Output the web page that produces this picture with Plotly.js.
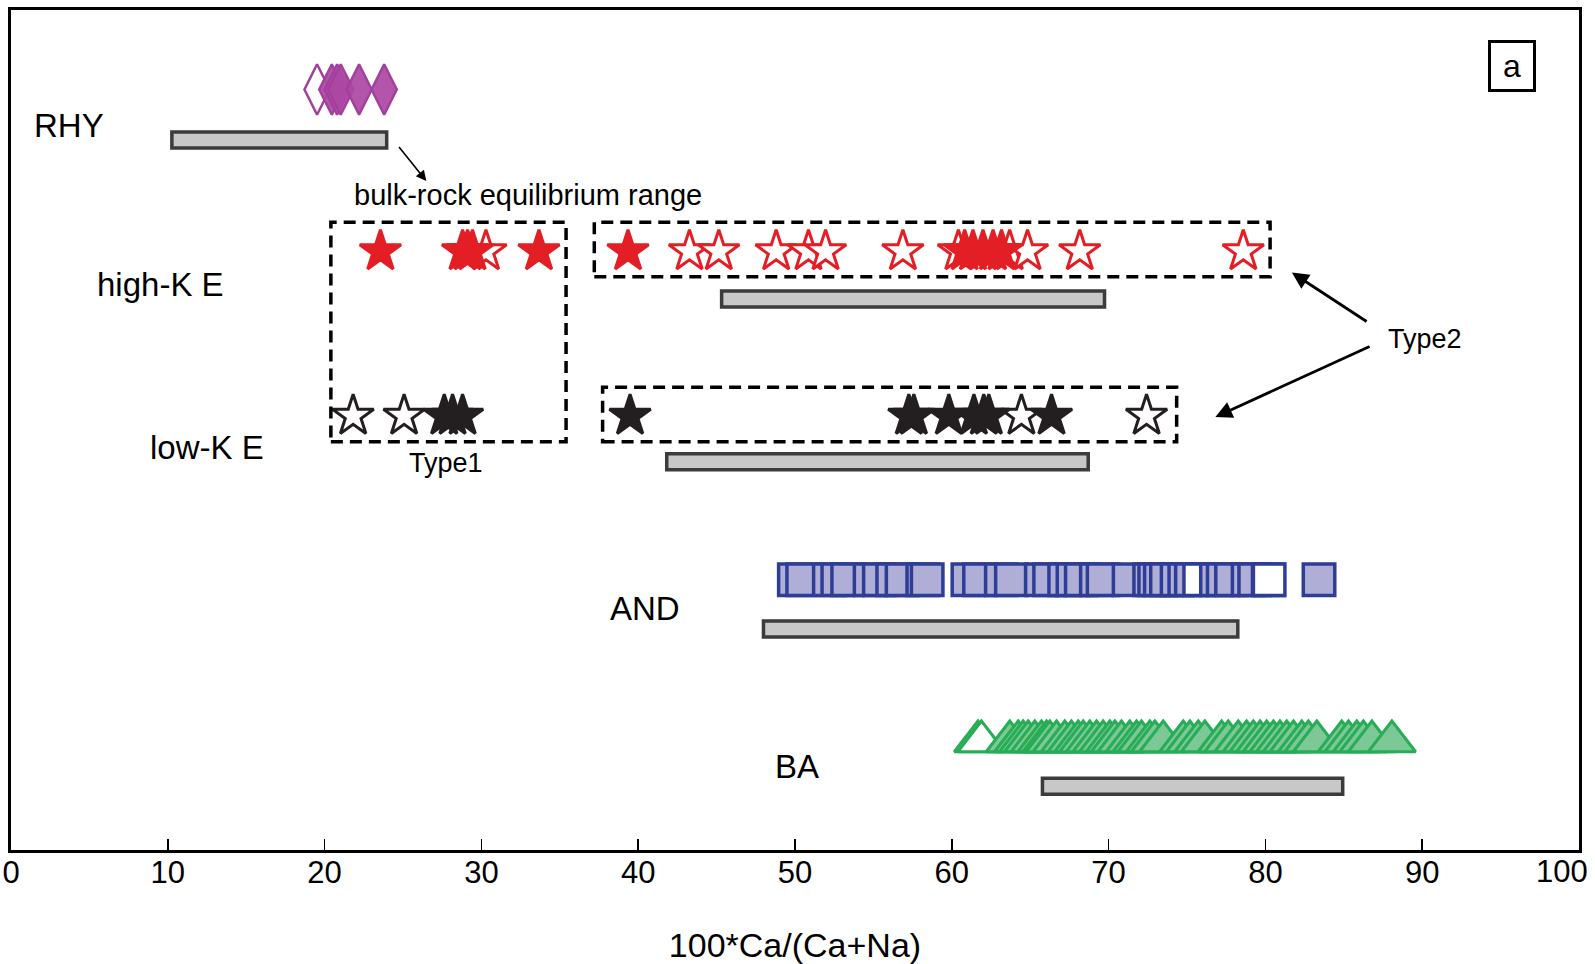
<!DOCTYPE html>
<html><head><meta charset="utf-8">
<script src="https://cdn.plot.ly/plotly-3.0.1.min.js"></script>
<style>html,body{margin:0;padding:0;background:#fff}#chart{width:1595px;height:964px}</style>
</head><body><div id="chart"></div>
<script>
// ---------- data ----------
const groups = ["RHY", "high-K E", "low-K E", "AND", "BA"];
const bulkMin = [10.26, 45.32, 41.82, 47.99, 65.78];
const bulkMax = [23.96, 69.74, 68.70, 78.24, 84.93];

const rhyOpen = [19.52];
const rhyFilled = [20.46, 20.80, 21.03, 22.20, 23.80];

const highKOpen = [30.29, 43.27, 45.14, 48.80, 50.86, 51.95, 56.88, 60.42, 63.69, 64.83, 68.16, 78.59];
const highKFilled = [23.56, 28.80, 29.12, 29.43, 33.67, 39.35, 60.82, 61.35, 61.99, 62.63, 63.17];

const lowKOpen = [21.82, 25.07, 64.44, 72.42];
const lowKFilled = [27.63, 28.16, 28.80, 39.48, 57.26, 57.58, 59.81, 61.41, 62.04, 62.36, 66.36];

const andOpen = [75.81, 80.24];
const andFilled = [49.96, 50.49, 52.19, 52.73, 53.36, 54.79, 55.38, 56.23, 56.83, 58.15, 58.43,
  61.03, 61.77, 63.16, 63.80, 65.71, 66.24, 67.20, 67.73, 68.26, 69.22, 69.65, 71.31, 72.62, 72.94,
  73.30, 73.69, 74.37, 74.86, 75.28, 76.88, 77.31, 77.84, 78.90, 79.32, 80.18, 83.42];

const baOpen = [61.67, 61.89];
const baFilled = [63.70, 64.23, 64.55, 64.87, 65.29, 65.72, 66.04, 66.25, 66.68, 67.21, 67.63, 68.06,
  68.38, 68.80, 69.23, 69.65, 70.08, 70.40, 70.82, 71.35, 71.78, 72.10, 72.63, 72.95, 73.48, 74.76,
  75.19, 75.72, 76.14, 77.21, 77.63, 78.27, 78.80, 79.23, 79.66, 80.08, 80.51, 80.93, 81.36, 81.79,
  82.32, 82.74, 83.28, 84.87, 85.30, 85.83, 86.25, 86.79, 88.07];

const tickVals = [0, 10, 20, 30, 40, 50, 60, 70, 80, 90, 100];
const tickText = ["0", "10", "20", "30", "40", "50", "60", "70", "80", "90", "100"];

// ---------- layout positions (vertical rows on a hidden axis) ----------
const markRow = {RHY: 760.5, HK: 598.5, LK: 434, AND: 270.3, BA: 108.5};
const barRow = [710.1, 551, 388.2, 221, 63.7];
const labelPos = [[3.70, 724.9], [9.54, 565.2], [12.50, 402.4], [40.46, 241.7], [50.13, 84]];

const FONT = "Liberation Sans, Arial, sans-serif";
const RED = "#e31e24", BLACK = "#231f20", PURPLE = "#a3409b", BLUE = "#2e3d96", GREEN = "#27ad56";

function pts(xs, row) { return xs.map(() => row); }
function mk(xs, row, symbol, size, fill, line, lw) {
  return {type: "scatter", mode: "markers", x: xs, y: pts(xs, row), hoverinfo: "x",
    marker: {symbol: symbol, size: size, color: fill, line: {color: line, width: lw}}, cliponaxis: false};
}

const traces = [];
// bulk-rock equilibrium range bars
traces.push({type: "bar", orientation: "h", y: barRow, base: bulkMin,
  x: bulkMax.map((v, i) => v - bulkMin[i]), width: 16, hoverinfo: "text", text: groups, textposition: "none",
  marker: {color: "#c8c8c8", line: {color: "#3b3b3b", width: 3.5}}});

// RHY
traces.push(mk(rhyOpen, markRow.RHY, "diamond-tall", 36, "#ffffff", PURPLE, 2.5));
traces.push(mk(rhyFilled, markRow.RHY, "diamond-tall", 36, "rgba(172,72,164,0.92)", PURPLE, 2.5));
// high-K E
traces.push(mk(highKOpen, markRow.HK, "star", 31, "#ffffff", RED, 3));
traces.push(mk(highKFilled, markRow.HK, "star", 31, RED, RED, 3));
// low-K E
traces.push(mk(lowKOpen, markRow.LK, "star", 31, "#ffffff", BLACK, 3));
traces.push(mk(lowKFilled, markRow.LK, "star", 31, BLACK, BLACK, 3));
// AND (sorted, open ones in white)
const andAll = andFilled.concat(andOpen).slice().sort((a, b) => a - b);
traces.push({type: "scatter", mode: "markers", x: andAll, y: pts(andAll, markRow.AND), hoverinfo: "x",
  marker: {symbol: "square", size: 31.5, color: andAll.map(v => andOpen.includes(v) ? "#ffffff" : "#aeaed6"),
    line: {color: BLUE, width: 3.5}}, cliponaxis: false});
// BA
traces.push(mk(baOpen, markRow.BA, "triangle-up", 41, "#ffffff", GREEN, 3));
traces.push(mk(baFilled, markRow.BA, "triangle-up", 41, "#7dc897", GREEN, 3));

const dashLine = {color: "#000", width: 3.5, dash: "12px,7px"};
const shapes = [
  {type: "rect", xref: "x", yref: "y", x0: 20.40, x1: 35.40, y0: 408.3, y1: 627.7, line: dashLine},
  {type: "rect", xref: "x", yref: "y", x0: 37.20, x1: 80.30, y0: 573.3, y1: 627.7, line: dashLine},
  {type: "rect", xref: "x", yref: "y", x0: 37.73, x1: 74.34, y0: 408.3, y1: 462.7, line: dashLine}
];

const annotations = groups.map((g, i) => ({x: labelPos[i][0], y: labelPos[i][1], xref: "x", yref: "y",
  text: g, showarrow: false, font: {family: FONT, size: 33, color: "#000"}}));
annotations.push(
  {x: 32.99, y: 654.7, xref: "x", yref: "y", text: "bulk-rock equilibrium range", showarrow: false,
    font: {family: FONT, size: 29, color: "#000"}},
  {x: 27.73, y: 387.2, xref: "x", yref: "y", text: "Type1", showarrow: false,
    font: {family: FONT, size: 27, color: "#000"}},
  {x: 90.19, y: 511.3, xref: "x", yref: "y", text: "Type2", showarrow: false,
    font: {family: FONT, size: 27, color: "#000"}},
  {x: 26.49, y: 669, ax: 24.67, ay: 704.5, xref: "x", yref: "y", axref: "x", ayref: "y", text: "",
    showarrow: true, arrowhead: 2, arrowsize: 1.3, arrowwidth: 1.6, arrowcolor: "#000"},
  {x: 81.69, y: 577.4, ax: 86.55, ay: 527.5, xref: "x", yref: "y", axref: "x", ayref: "y", text: "",
    showarrow: true, arrowhead: 2, arrowsize: 1.2, arrowwidth: 2.8, arrowcolor: "#000"},
  {x: 76.81, y: 433, ax: 86.74, ay: 504.2, xref: "x", yref: "y", axref: "x", ayref: "y", text: "",
    showarrow: true, arrowhead: 2, arrowsize: 1.2, arrowwidth: 2.8, arrowcolor: "#000"},
  {x: 95.74, y: 784, xref: "x", yref: "y", text: "a", showarrow: false, width: 42, height: 46,
    bordercolor: "#000", borderwidth: 3, borderpad: 0, bgcolor: "#fff",
    font: {family: FONT, size: 32, color: "#000"}},
  // last tick label, set a little inside the page edge as in the original
  {x: 1, y: -0.026, xref: "paper", yref: "paper", xanchor: "right", yanchor: "middle",
    xshift: 11, text: tickText[tickText.length - 1], showarrow: false,
    font: {family: FONT, size: 31, color: "#000"}}
);

const tickTextShown = tickText.map((t, i) => i === tickText.length - 1 ? "" : t);

const layout = {
  width: 1595, height: 964,
  margin: {l: 11, r: 16, t: 10, b: 114},
  paper_bgcolor: "#fff", plot_bgcolor: "#fff",
  showlegend: false, barmode: "overlay",
  font: {family: FONT, color: "#000"},
  xaxis: {range: [0, 100], tickmode: "array", tickvals: tickVals, ticktext: tickTextShown,
    ticks: "inside", ticklen: 11, tickwidth: 1.5, tickcolor: "#000",
    ticklabeloverflow: "allow", ticklabelstandoff: -7,
    showline: true, linewidth: 3, linecolor: "#000", mirror: true,
    showgrid: false, zeroline: false, automargin: false,
    tickfont: {family: FONT, size: 31, color: "#000"},
    title: {text: "100*Ca/(Ca+Na)", font: {family: FONT, size: 34, color: "#000"}, standoff: 47}},
  yaxis: {range: [0, 840], showline: true, linewidth: 3, linecolor: "#000", mirror: true,
    showgrid: false, zeroline: false, showticklabels: false, ticks: "", automargin: false},
  shapes: shapes, annotations: annotations
};

Plotly.newPlot("chart", traces, layout, {displayModeBar: false, staticPlot: true});
</script></body></html>
